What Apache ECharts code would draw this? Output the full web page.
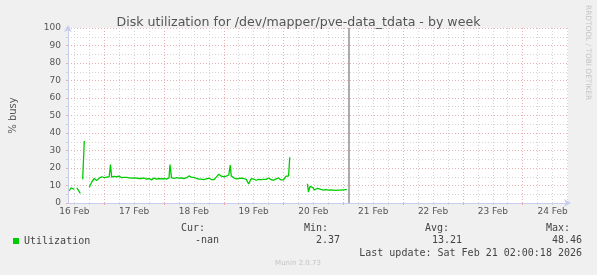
<!DOCTYPE html>
<html><head><meta charset="utf-8">
<script src="https://cdn.jsdelivr.net/npm/echarts@6/dist/echarts.min.js"></script>
<style>html,body{margin:0;padding:0;background:#F0F0F0}#c{width:597px;height:275px}</style>
</head><body><div id="c"></div>
<script>
// Time in hours since 16 Feb 00:00
const hours = [10.0,10.7,11.3,12.0,12.5,13.0,13.7,14.4,14.9,15.35,15.75,16.0,16.5,
  18,19,20,21,22,23,24,25,26,26.5,27,28,29,30,30.6,31,32,33,34,35,36,37,38,39,40,41,42,43,44,45,46,47,48,49,50,50.4,
  51,52,53,54,55,56,57,58,59,60,61,62,63,64,65,66,67,68,69,70,71,72,73,74,74.6,75,76,77,78,79,80,81,82,83,84,85,86,87,88,89,90,91,92,93,94,95,96,97,98,98.5,99,
  105.6,106.0,106.6,107.2,107.8,108.4,109.0,109.6,110.2,111,112,113,114,115,116,117,118,119,120,121,121.4];
const busy = [7.0,8.7,8.0,7.8,null,8.7,8.6,5.5,null,13.5,13.5,35.4,null,
  9.0,12.0,14.0,12.8,14.2,15.0,14.5,14.8,15.0,22.0,14.8,15.2,15.0,15.3,16.4,14.5,14.6,14.6,14.4,14.2,14.4,14.2,14.0,14.0,14.3,13.6,14.0,13.2,14.2,13.6,14.0,13.8,14.0,13.6,14.3,22.0,
  14.5,14.0,14.5,14.2,14.3,14.0,14.3,15.5,14.8,14.7,14.1,13.7,13.7,13.4,13.8,14.2,13.4,13.3,14.8,16.4,15.3,15.0,15.4,16.0,21.7,15.5,14.4,13.8,14.0,14.2,14.0,13.5,10.9,13.9,13.6,13.0,13.5,13.4,13.5,13.5,14.3,13.3,13.0,13.8,14.3,13.2,13.2,15.4,15.4,26.1,null,
  11.0,6.2,9.5,9.0,8.8,7.4,8.2,8.4,7.6,7.8,7.4,7.6,7.3,7.5,7.4,7.2,7.4,7.3,7.5,7.6,7.6];
const dayLabels = ['16 Feb','17 Feb','18 Feb','19 Feb','20 Feb','21 Feb','22 Feb','23 Feb','24 Feb'];
const labelHours = [12,36,60,84,108,132,156,180,204];
const majorHours = [24,48,72,96,120,144,168,192];
const minorHours = [12,18,30,36,42,54,60,66,78,84,90,102,108,114,126,132,138,150,156,162,174,180,186,198,204,210];
const yMinor = [5,15,25,35,45,55,65,75,85,95];
const statHeads = ['Cur:','Min:','Avg:','Max:'];
const statValues = ['-nan','2.37','13.21','48.46'];
const nowHour = 122;
const X_MIN = 9.46, X_MAX = 210.2;

const chart = echarts.init(document.getElementById('c'));
const mono = 'DejaVu Sans Mono';
const headX = [205,328,449,570];
const valX = [219,340,462,582];
const graphics = [];
statHeads.forEach((t,i)=>graphics.push({type:'text',x:headX[i],y:228,style:{text:t,fill:'#444',font:'10px '+mono,textAlign:'right',textVerticalAlign:'middle'}}));
statValues.forEach((t,i)=>graphics.push({type:'text',x:valX[i],y:240,style:{text:t,fill:'#444',font:'10px '+mono,textAlign:'right',textVerticalAlign:'middle'}}));
graphics.push({type:'text',x:582,y:253,style:{text:'Last update: Sat Feb 21 02:00:18 2026',fill:'#444',font:'10px '+mono,textAlign:'right',textVerticalAlign:'middle'}});
graphics.push({type:'text',x:298,y:263,style:{text:'Munin 2.0.73',fill:'#c4c4c4',font:'7px DejaVu Sans',textAlign:'center',textVerticalAlign:'middle'}});
graphics.push({type:'text',x:591,y:5,rotation:-Math.PI/2,style:{text:'RRDTOOL / TOBI OETIKER',fill:'#c4c4c4',font:'7.4px DejaVu Sans',textAlign:'left',textVerticalAlign:'top'}});

const axisColor = '#C8CCF0';
const majorColor = '#E8B0B0';
const minorColor = '#D4D4D4';
chart.setOption({
  animation:false,
  backgroundColor:'#F0F0F0',
  textStyle:{fontFamily:'DejaVu Sans'},
  title:{text:'Disk utilization for /dev/mapper/pve-data_tdata - by week',left:'center',top:11,
    textStyle:{fontSize:12.6,fontWeight:'normal',color:'#555',fontFamily:'DejaVu Sans'}},
  legend:{left:13,top:236,padding:0,itemWidth:6,itemHeight:6,icon:'rect',
    textStyle:{fontFamily:mono,fontSize:10,color:'#444'},data:['Utilization']},
  grid:{left:67,top:28,width:501,height:175,show:true,backgroundColor:'#FFFFFF',borderWidth:0},
  xAxis:[
    {type:'value',min:X_MIN,max:X_MAX,
      axisLine:{show:true,lineStyle:{color:axisColor},symbol:['none','arrow'],symbolSize:[6,7],symbolOffset:[0,3]},
      axisTick:{show:true,customValues:majorHours,length:2,lineStyle:{color:majorColor}},
      splitLine:{show:true,lineStyle:{color:majorColor,type:[1,2]}},
      axisLabel:{customValues:labelHours,formatter:v=>dayLabels[labelHours.indexOf(v)],color:'#555',fontSize:9,margin:4}},
    {type:'value',min:X_MIN,max:X_MAX,position:'bottom',
      axisLine:{show:false},
      axisTick:{show:true,customValues:minorHours,length:2,lineStyle:{color:minorColor}},
      splitLine:{show:true,lineStyle:{color:minorColor,type:[1,2]}},
      axisLabel:{show:false}}
  ],
  yAxis:[
    {type:'value',min:0,max:100,interval:10,
      name:'% busy',nameLocation:'middle',nameGap:50,nameRotate:90,nameTextStyle:{color:'#555',fontSize:10},
      axisLine:{show:true,lineStyle:{color:axisColor},symbol:['none','arrow'],symbolSize:[6,7],symbolOffset:[0,3]},
      axisTick:{show:true,length:2,lineStyle:{color:majorColor}},
      splitLine:{show:true,lineStyle:{color:majorColor,type:[1,2]}},
      axisLabel:{color:'#555',fontSize:9,margin:7}},
    {type:'value',min:0,max:100,position:'left',
      axisLine:{show:false},
      axisTick:{show:true,customValues:yMinor,length:2,lineStyle:{color:minorColor}},
      splitLine:{show:true,lineStyle:{color:minorColor,type:[1,2]}},
      axisLabel:{show:false}}
  ],
  series:[{
    name:'Utilization',type:'line',xAxisIndex:0,yAxisIndex:0,
    data:hours.map((h,i)=>[h, busy[i]===null?'-':busy[i]]),
    showSymbol:false,symbol:'none',connectNulls:false,
    itemStyle:{color:'#00CC00'},
    lineStyle:{color:'#00CC00',width:1.3},
    markLine:{silent:true,symbol:'none',label:{show:false},
      lineStyle:{color:'#909090',type:'solid',width:1.5},
      data:[{xAxis:nowHour}]}
  }],
  graphic:graphics
});
</script></body></html>
